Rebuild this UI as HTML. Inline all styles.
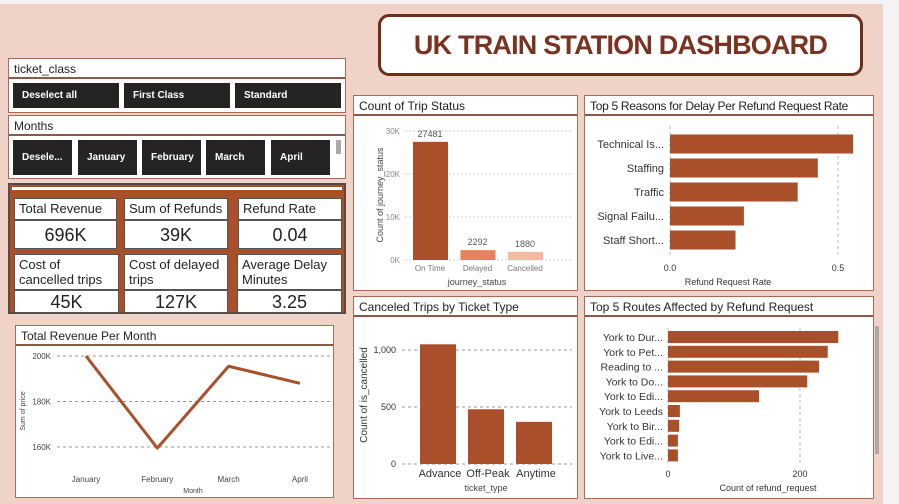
<!DOCTYPE html>
<html><head><meta charset="utf-8">
<style>
*{box-sizing:border-box;margin:0;padding:0}
body{width:899px;height:504px;background:#f3f3f3;font-family:"Liberation Sans",sans-serif;position:relative;overflow:hidden}
.abs{position:absolute}
.panel{position:absolute;background:#fff;border:1px solid #a86a55}
.hdr{position:absolute;left:0;right:0;top:0;height:20px;border-bottom:2px solid #8a5a48;font-size:12px;color:#222;padding:3px 0 0 5px;background:#fff;white-space:nowrap;overflow:hidden}
.btn{position:absolute;background:#252423;color:#fff;font-size:10px;font-weight:bold;padding-left:9px;display:flex;align-items:center}
.card{position:absolute;background:#fff;border:1px solid #555;color:#222}
.lab{font-size:13px;line-height:15px;padding:2px 0 0 4px}
.val{font-size:18px;text-align:center}
svg text{font-family:"Liberation Sans",sans-serif}
</style></head><body>
<div class="abs" style="left:0;top:4px;width:883px;height:500px;background:#efd3c8"></div>

<div class="abs" style="left:378px;top:14px;width:485px;height:62px;border:3px solid #6e2f1a;border-radius:11px;background:#fff;color:#7a3320;font-weight:bold;font-size:27px;display:flex;align-items:center;justify-content:center;letter-spacing:-0.8px">UK TRAIN STATION DASHBOARD</div>

<div class="panel" style="left:8px;top:58px;width:338px;height:55px">
  <div class="hdr">ticket_class</div>
  <div class="btn" style="left:4px;top:24px;width:106px;height:25px">Deselect all</div>
  <div class="btn" style="left:115px;top:24px;width:106px;height:25px">First Class</div>
  <div class="btn" style="left:226px;top:24px;width:106px;height:25px">Standard</div>
</div>
<div class="panel" style="left:8px;top:115px;width:338px;height:64px">
  <div class="hdr">Months</div>
  <div class="btn" style="left:4px;top:24px;width:59px;height:35px">Desele...</div>
  <div class="btn" style="left:69px;top:24px;width:59px;height:35px">January</div>
  <div class="btn" style="left:133px;top:24px;width:59px;height:35px">February</div>
  <div class="btn" style="left:197px;top:24px;width:59px;height:35px">March</div>
  <div class="btn" style="left:262px;top:24px;width:59px;height:35px">April</div>
  <div class="abs" style="left:327px;top:24px;width:5px;height:14px;background:#aaa"></div>
</div>

<div class="abs" style="left:8px;top:183px;width:338px;height:131px;background:#a9502b;border:2px solid #5a4a45">
  <div class="abs" style="left:2px;top:2px;width:330px;height:3px;background:#fff"></div>
  <div class="card lab" style="left:4px;top:13px;width:103px;height:22px">Total Revenue</div>
  <div class="card val" style="left:4px;top:35px;width:103px;height:29px;padding-top:4px">696K</div>
  <div class="card lab" style="left:114px;top:13px;width:104px;height:22px">Sum of Refunds</div>
  <div class="card val" style="left:114px;top:35px;width:104px;height:29px;padding-top:4px">39K</div>
  <div class="card lab" style="left:228px;top:13px;width:104px;height:22px">Refund Rate</div>
  <div class="card val" style="left:228px;top:35px;width:104px;height:29px;padding-top:4px">0.04</div>
  <div class="card lab" style="left:4px;top:69px;width:105px;height:36px">Cost of cancelled trips</div>
  <div class="card val" style="left:4px;top:105px;width:105px;height:23px;padding-top:1px">45K</div>
  <div class="card lab" style="left:114px;top:69px;width:104px;height:36px">Cost of delayed trips</div>
  <div class="card val" style="left:114px;top:105px;width:104px;height:23px;padding-top:1px">127K</div>
  <div class="card lab" style="left:227px;top:69px;width:105px;height:36px">Average Delay Minutes</div>
  <div class="card val" style="left:227px;top:105px;width:105px;height:23px;padding-top:1px">3.25</div>
</div>

<div class="panel" style="left:15px;top:325px;width:319px;height:173px"><div class="hdr">Total Revenue Per Month</div></div>
<div class="panel" style="left:353px;top:95px;width:225px;height:196px"><div class="hdr">Count of Trip Status</div></div>
<div class="panel" style="left:584px;top:95px;width:290px;height:196px"><div class="hdr" style="letter-spacing:-0.3px">Top 5 Reasons for Delay Per Refund Request Rate</div></div>
<div class="panel" style="left:353px;top:296px;width:225px;height:203px"><div class="hdr">Canceled Trips by Ticket Type</div></div>
<div class="panel" style="left:584px;top:296px;width:290px;height:203px"><div class="hdr">Top 5 Routes Affected by Refund Request</div></div>
<div class="abs" style="left:875px;top:326px;width:4px;height:128px;background:#aaa"></div>

<svg id="charts" class="abs" style="left:0;top:0" width="899" height="504"></svg>

<script>
const statusCats=["On Time","Delayed","Cancelled"];
const statusVals=[27481,2292,1880];
const statusTicks=[0,10000,20000,30000];
const statusTickLabels=["0K","10K","20K","30K"];
const reasonCats=["Technical Is...","Staffing","Traffic","Signal Failu...","Staff Short..."];
const reasonVals=[0.545,0.44,0.38,0.22,0.195];
const reasonTicks=[0,0.5];
const reasonTickLabels=["0.0","0.5"];
const ticketCats=["Advance","Off-Peak","Anytime"];
const ticketVals=[1050,480,370];
const ticketTicks=[0,500,1000];
const ticketTickLabels=["0","500","1,000"];
const routeCats=["York to Dur...","York to Pet...","Reading to ...","York to Do...","York to Edi...","York to Leeds","York to Bir...","York to Edi...","York to Live..."];
const routeVals=[258,242,229,211,138,18,17,15,15];
const routeTicks=[0,200];
const routeTickLabels=["0","200"];
const months=["January","February","March","April"];
const revenue=[200000,159500,195500,188000];
const revTicks=[160000,180000,200000];
const revTickLabels=["160K","180K","200K"];

const svg=document.getElementById('charts');
const NS="http://www.w3.org/2000/svg";
function mk(tag,attrs,name,text){
  const e=document.createElementNS(NS,tag);
  for(const k in attrs)e.setAttribute(k,attrs[k]);
  
  
  if(text!==undefined)e.textContent=text;
  svg.appendChild(e);return e;
}
const BAR="#a9502b";

(function(){
  const y=v=>260-v/30000*129;
  const cx=i=>430+i*47.5;
  statusTicks.forEach((t,i)=>{
    mk('line',{x1:405,x2:572,y1:y(t),y2:y(t),stroke:'#ccc','stroke-dasharray':'2,2'},'status-gridline');
    mk('text',{x:400,y:y(t)+3,'font-size':8,fill:'#888','text-anchor':'end'},'status-y-tick',statusTickLabels[i]);
  });
  const cols=[BAR,"#e8825a","#f2b9a3"];
  statusVals.forEach((v,i)=>{
    mk('rect',{x:cx(i)-17,y:y(v),width:35,height:260-y(v),fill:cols[i]},'status-bar');
    mk('text',{x:cx(i),y:y(v)-5,'font-size':9,fill:'#555','text-anchor':'middle'},'status-bar-value',String(v));
    mk('text',{x:cx(i),y:271,'font-size':8,fill:'#777','text-anchor':'middle'},'status-x-tick',statusCats[i]);
  });
  mk('text',{x:477,y:285,'font-size':9,fill:'#444','text-anchor':'middle'},'status-x-axis-title','journey_status');
  mk('text',{x:383,y:195,'font-size':9,fill:'#444','text-anchor':'middle',transform:'rotate(-90 383 195)'},'status-y-axis-title','Count of journey_status');
})();

(function(){
  const x=v=>670+v/0.5*168;
  reasonTicks.forEach((t,i)=>{
    mk('line',{x1:x(t),x2:x(t),y1:126,y2:255,stroke:'#bbb','stroke-dasharray':'3,3'},'reasons-gridline');
    mk('text',{x:x(t),y:271,'font-size':9,fill:'#333','text-anchor':'middle'},'reasons-x-tick',reasonTickLabels[i]);
  });
  reasonVals.forEach((v,i)=>{
    const cy=144+i*24;
    mk('rect',{x:670,y:cy-9.5,width:x(v)-670,height:19,fill:BAR},'reason-bar');
    mk('text',{x:664,y:cy+4,'font-size':11,fill:'#333','text-anchor':'end'},'reason-label',reasonCats[i]);
  });
  mk('text',{x:728,y:285,'font-size':9,fill:'#333','text-anchor':'middle'},'reasons-x-axis-title','Refund Request Rate');
})();

(function(){
  const y=v=>464-v/1000*114;
  const cx=i=>438+i*48;
  ticketTicks.forEach((t,i)=>{
    mk('line',{x1:402,x2:572,y1:y(t),y2:y(t),stroke:'#999','stroke-dasharray':'3,3'},'ticket-gridline');
    mk('text',{x:396,y:y(t)+3,'font-size':9,fill:'#333','text-anchor':'end'},'ticket-y-tick',ticketTickLabels[i]);
  });
  ticketVals.forEach((v,i)=>{
    mk('rect',{x:cx(i)-18,y:y(v),width:36,height:464-y(v),fill:BAR},'ticket-bar');
    mk('text',{x:cx(i)+2,y:477,'font-size':11,fill:'#333','text-anchor':'middle'},'ticket-x-tick',ticketCats[i]);
  });
  mk('text',{x:486,y:491,'font-size':9,fill:'#444','text-anchor':'middle'},'ticket-x-axis-title','ticket_type');
  mk('text',{x:367,y:395,'font-size':10,fill:'#333','text-anchor':'middle',transform:'rotate(-90 367 395)'},'ticket-y-axis-title','Count of is_cancelled');
})();

(function(){
  const x=v=>668+v/200*132;
  routeTicks.forEach((t,i)=>{
    mk('line',{x1:x(t),x2:x(t),y1:328,y2:465,stroke:'#bbb','stroke-dasharray':'3,3'},'routes-gridline');
    mk('text',{x:x(t),y:477,'font-size':9,fill:'#333','text-anchor':'middle'},'routes-x-tick',routeTickLabels[i]);
  });
  routeVals.forEach((v,i)=>{
    const cy=337+i*14.8;
    mk('rect',{x:668,y:cy-6,width:x(v)-668,height:12,fill:BAR},'route-bar');
    mk('text',{x:663,y:cy+4,'font-size':10.5,fill:'#333','text-anchor':'end'},'route-label',routeCats[i]);
  });
  mk('text',{x:768,y:491,'font-size':9,fill:'#333','text-anchor':'middle'},'routes-x-axis-title','Count of refund_request');
})();

(function(){
  const y=v=>447-(v-160000)/40000*91;
  const x=i=>86+i*71.3;
  revTicks.forEach((t,i)=>{
    mk('line',{x1:57,x2:330,y1:y(t),y2:y(t),stroke:'#999','stroke-dasharray':'3,3'},'revenue-gridline');
    mk('text',{x:51,y:y(t)+3,'font-size':8,fill:'#444','text-anchor':'end'},'revenue-y-tick',revTickLabels[i]);
  });
  const d=revenue.map((v,i)=>(i?'L':'M')+x(i)+' '+y(v)).join(' ');
  mk('path',{d:d,fill:'none',stroke:BAR,'stroke-width':3,'stroke-linejoin':'round'},'revenue-line');
  months.forEach((m,i)=>mk('text',{x:x(i),y:482,'font-size':8,fill:'#444','text-anchor':'middle'},'revenue-x-tick',m));
  mk('text',{x:193,y:493,'font-size':7,fill:'#444','text-anchor':'middle'},'revenue-x-axis-title','Month');
  mk('text',{x:25,y:411,'font-size':7,fill:'#444','text-anchor':'middle',transform:'rotate(-90 25 411)'},'revenue-y-axis-title','Sum of price');
})();
</script>
</body></html>
